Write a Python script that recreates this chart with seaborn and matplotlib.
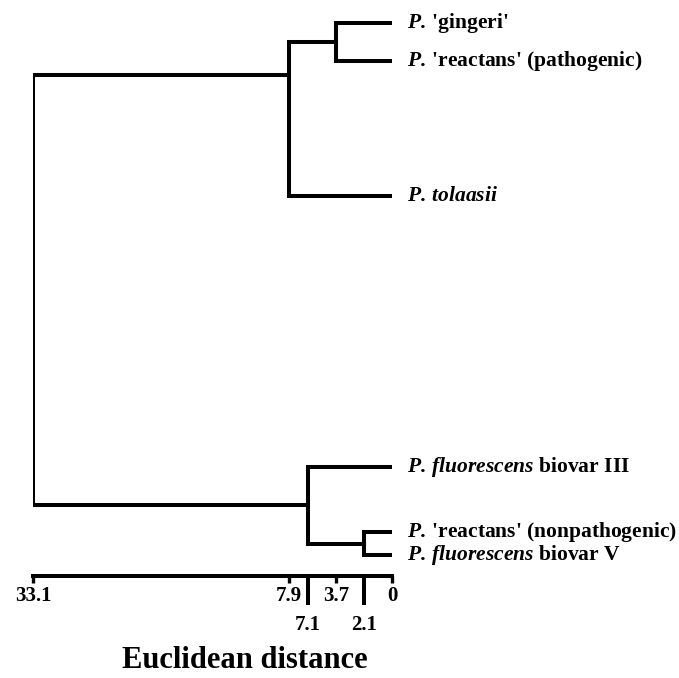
import numpy as np
import pandas as pd
import matplotlib
matplotlib.use("Agg")
import matplotlib.pyplot as plt
import seaborn as sns

# ---------------- data ----------------
leaf_labels = [
    r"$\mathbfit{P.}\,$'gingeri'",
    r"$\mathbfit{P.}\,$'reactans' (pathogenic)",
    r"$\mathbfit{P.\,tolaasii}$",
    r"$\mathbfit{P.\,fluorescens}$ biovar III",
    r"$\mathbfit{P.}\,$'reactans' (nonpathogenic)",
    r"$\mathbfit{P.\,fluorescens}$ biovar V",
]
# linkage: cluster n_leaves+k = merge of (merge_left[k], merge_right[k]) at merge_height[k]
merge_left = [0, 6, 4, 3, 7]
merge_right = [1, 2, 5, 8, 9]
merge_height = [3.7, 7.9, 2.1, 7.1, 33.1]

tick_values_upper = [33.1, 7.9, 3.7, 0]
tick_labels_upper = ["33.1", "7.9", "3.7", "0"]
tick_values_lower = [7.1, 2.1]
tick_labels_lower = ["7.1", "2.1"]
axis_title = "Euclidean distance"

# ---------------- layout ----------------
W, H = 679, 678
LEAF_ROWS = [23, 61, 196, 467, 532, 555]      # vertical slots of leaves (pixel rows)
ATTACH_OVERRIDE = {7: 75}                     # where a cluster's stem attaches
AXIS_ROW = 576
SCALE_STOPS = [0, 28, 56, 84, 103, 359]       # the reference's non-uniform distance axis
SCALE_VALUES = sorted(set([0.0] + merge_height))
X0_PIX, X1_PIX = 33, 392

sns.set_theme(style="white")
plt.rcParams["font.family"] = ["Liberation Serif", "DejaVu Serif"]
plt.rcParams["font.weight"] = "bold"
plt.rcParams["mathtext.fontset"] = "custom"
plt.rcParams["mathtext.bfit"] = "Liberation Serif:italic:bold"
plt.rcParams["mathtext.it"] = "Liberation Serif:italic:bold"
plt.rcParams["mathtext.rm"] = "Liberation Serif:bold"


def _pw(x, xp, fp):
    x = np.asarray(x, dtype=float)
    shape = x.shape
    x1 = np.atleast_1d(x).ravel()
    out = np.interp(x1, xp, fp)
    lo = x1 < xp[0]
    hi = x1 > xp[-1]
    out[lo] = fp[0] + (x1[lo] - xp[0]) * (fp[1] - fp[0]) / (xp[1] - xp[0])
    out[hi] = fp[-1] + (x1[hi] - xp[-1]) * (fp[-1] - fp[-2]) / (xp[-1] - xp[-2])
    return out.reshape(shape)


def fwd(x):
    return _pw(x, SCALE_VALUES, SCALE_STOPS)


def inv(y):
    return _pw(y, SCALE_STOPS, SCALE_VALUES)


# ---------------- build segments ----------------
n = len(leaf_labels)
height_of = {i: 0.0 for i in range(n)}
attach = {i: LEAF_ROWS[i] for i in range(n)}
rows = []
for k, (a, b, h) in enumerate(zip(merge_left, merge_right, merge_height)):
    node = n + k
    pts = [(height_of[a], attach[a]), (h, attach[a]), (h, attach[b]), (height_of[b], attach[b])]
    for order, (xv, yv) in enumerate(pts):
        rows.append({"dist": xv, "row": yv, "link": k, "order": order})
    height_of[node] = h
    attach[node] = ATTACH_OVERRIDE.get(node, (attach[a] + attach[b]) / 2)
df = pd.DataFrame(rows)

fig = plt.figure(figsize=(W / 100, H / 100), dpi=100)
ax = fig.add_axes([X0_PIX / W, 0, (X1_PIX - X0_PIX) / W, 1])
ax.set_xscale("function", functions=(fwd, inv))

sns.lineplot(data=df, x="dist", y="row", units="link", estimator=None, sort=False,
             color="black", linewidth=2.9, ax=ax, legend=False,
             solid_joinstyle="miter", solid_capstyle="projecting")

ax.set_xlim(max(merge_height), 0)
ax.set_ylim(H, 0)
ax.set_xlabel("")
ax.set_ylabel("")
ax.set_yticks([])
ax.patch.set_alpha(0)

for s in ["top", "left", "right"]:
    ax.spines[s].set_visible(False)
sp = ax.spines["bottom"]
sp.set_position(("data", AXIS_ROW))
sp.set_bounds(0, max(merge_height))
sp.set_linewidth(2.9)
sp.set_color("black")
sp.set_capstyle("projecting")

ax.set_xticks(tick_values_lower, labels=tick_labels_lower)
ax.set_xticks(tick_values_upper, labels=tick_labels_upper, minor=True)
ax.tick_params(axis="x", which="major", direction="out", length=21, width=2.9,
               pad=7, labelsize=15, color="black", labelcolor="black", bottom=True)
ax.tick_params(axis="x", which="minor", direction="out", length=5, width=2.4,
               pad=2, labelsize=15, color="black", labelcolor="black", bottom=True)
for t in ax.get_xticklabels(which="both"):
    t.set_fontweight("bold")

for i, lbl in enumerate(leaf_labels):
    ax.annotate(lbl, xy=(0, LEAF_ROWS[i]), xytext=(15, 0), textcoords="offset pixels",
                ha="left", va="center", fontsize=15.5, fontweight="bold", color="black",
                annotation_clip=False)

fig.text(245 / W, 1 - 661 / H, axis_title, ha="center", va="center",
         fontsize=22, fontweight="bold", color="black")

fig.savefig("out.png", dpi=100, facecolor="white")
